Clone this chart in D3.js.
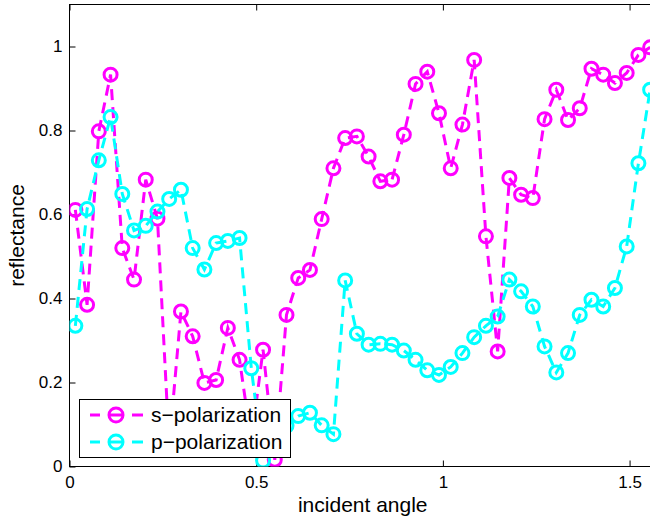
<!DOCTYPE html>
<html lang="en">
<head>
    <meta charset="utf-8">
    <title>Reflectance vs incident angle</title>
    <script src="https://d3js.org/d3.v7.js"></script>
    <style>
        body { margin: 0; background: #fff; }
        svg { display: block; font-family: "Liberation Sans", Arial, sans-serif; }
        .axis path, .axis line { stroke: #000; }
        .axis text { font-size: 17px; fill: #000; }
    </style>
</head>
<body>
<svg width="650" height="523"></svg>
<script type="text/javascript">
    // incident angles (rad)
    let angles = [0.0157, 0.0471, 0.0785, 0.1100, 0.1414, 0.1728, 0.2042, 0.2356, 0.2670, 0.2985,
        0.3299, 0.3613, 0.3927, 0.4241, 0.4555, 0.4869, 0.5184, 0.5498, 0.5812, 0.6126,
        0.6440, 0.6754, 0.7069, 0.7383, 0.7697, 0.8011, 0.8325, 0.8639, 0.8954, 0.9268,
        0.9582, 0.9896, 1.0210, 1.0524, 1.0838, 1.1153, 1.1467, 1.1781, 1.2095, 1.2409,
        1.2723, 1.3038, 1.3352, 1.3666, 1.3980, 1.4294, 1.4608, 1.4923, 1.5237, 1.5551];

    let sPol = [0.611, 0.385, 0.798, 0.933, 0.520, 0.445, 0.683, 0.590, 0.050, 0.369,
        0.310, 0.199, 0.206, 0.330, 0.254, 0.060, 0.278, 0.016, 0.361, 0.449,
        0.468, 0.589, 0.710, 0.782, 0.786, 0.738, 0.679, 0.683, 0.790, 0.911,
        0.940, 0.841, 0.710, 0.814, 0.968, 0.548, 0.274, 0.687, 0.647, 0.639,
        0.827, 0.897, 0.825, 0.853, 0.947, 0.933, 0.913, 0.937, 0.980, 0.998];

    let pPol = [0.335, 0.613, 0.729, 0.832, 0.649, 0.562, 0.573, 0.607, 0.637, 0.659,
        0.520, 0.469, 0.532, 0.537, 0.544, 0.234, 0.014, 0.070, 0.097, 0.120,
        0.128, 0.098, 0.077, 0.443, 0.316, 0.290, 0.292, 0.290, 0.276, 0.254,
        0.229, 0.218, 0.237, 0.270, 0.308, 0.335, 0.357, 0.445, 0.417, 0.381,
        0.286, 0.224, 0.270, 0.361, 0.397, 0.381, 0.425, 0.524, 0.722, 0.897];

    let xTicks = [0, 0.5, 1, 1.5];
    let yTicks = [0, 0.2, 0.4, 0.6, 0.8, 1];

    let series = [
        {name: "s\u2212polarization", color: "#ff00ff", values: sPol},
        {name: "p\u2212polarization", color: "#00ffff", values: pPol}
    ];

    let svg = d3.select("svg");
    let mLeft = 69.5, mRight = 656, mTop = 4.5, mBottom = 466.5;

    let x = d3.scaleLinear().domain([0, Math.PI / 2]).range([mLeft, mRight]);
    let y = d3.scaleLinear().domain([0, 1.1]).range([mBottom, mTop]);

    // box
    svg.append("rect")
        .attr("x", mLeft).attr("y", mTop)
        .attr("width", mRight - mLeft).attr("height", mBottom - mTop)
        .attr("fill", "none").attr("stroke", "#000");

    let fmt = d => d === 0 ? "0" : d3.format("")(d);

    svg.append("g").attr("class", "axis")
        .attr("transform", `translate(0,${mBottom})`)
        .call(d3.axisBottom(x).tickValues(xTicks).tickFormat(fmt).tickSizeInner(-6).tickSizeOuter(0).tickPadding(9))
        .call(g => g.select(".domain").remove());

    svg.append("g").attr("class", "axis")
        .attr("transform", `translate(0,${mTop})`)
        .call(d3.axisTop(x).tickValues(xTicks).tickFormat("").tickSizeInner(-6).tickSizeOuter(0))
        .call(g => g.select(".domain").remove());

    svg.append("g").attr("class", "axis")
        .attr("transform", `translate(${mLeft},0)`)
        .call(d3.axisLeft(y).tickValues(yTicks).tickFormat(fmt).tickSizeInner(-6).tickSizeOuter(0).tickPadding(7))
        .call(g => g.select(".domain").remove());

    // axis labels
    svg.append("text")
        .attr("x", (mLeft + mRight) / 2).attr("y", 512)
        .attr("text-anchor", "middle")
        .style("font-size", "21px")
        .text("incident angle");

    svg.append("text")
        .attr("transform", `translate(24,${(mTop + mBottom) / 2}) rotate(-90)`)
        .attr("text-anchor", "middle")
        .style("font-size", "21px")
        .text("reflectance");

    svg.append("clipPath").attr("id", "plotClip")
        .append("rect").attr("x", mLeft).attr("y", mTop)
        .attr("width", mRight - mLeft).attr("height", mBottom - mTop);

    let line = d3.line()
        .x((d, i) => x(angles[i]))
        .y(d => y(d));

    let plot = svg.append("g").attr("clip-path", "url(#plotClip)");

    series.forEach(function (s) {
        plot.append("path")
            .attr("d", line(s.values))
            .attr("fill", "none")
            .attr("stroke", s.color)
            .attr("stroke-width", 3)
            .attr("stroke-dasharray", "11,7");

        plot.selectAll(null)
            .data(s.values)
            .join("circle")
            .attr("cx", (d, i) => x(angles[i]))
            .attr("cy", d => y(d))
            .attr("r", 6.5)
            .attr("fill", "none")
            .attr("stroke", s.color)
            .attr("stroke-width", 3);
    });

    // legend
    let lg = svg.append("g");
    lg.append("rect")
        .attr("x", 79.5).attr("y", 399.5)
        .attr("width", 211).attr("height", 58)
        .attr("fill", "#fff").attr("stroke", "#000");

    series.forEach(function (s, k) {
        let cy = 415 + k * 27;
        [[90, 100], [110, 122], [132, 143]].forEach(function (seg) {
            lg.append("line")
                .attr("x1", seg[0]).attr("x2", seg[1])
                .attr("y1", cy).attr("y2", cy)
                .attr("stroke", s.color).attr("stroke-width", 3);
        });
        lg.append("circle")
            .attr("cx", 116).attr("cy", cy).attr("r", 7)
            .attr("fill", "none").attr("stroke", s.color).attr("stroke-width", 3);
        lg.append("text")
            .attr("x", 151).attr("y", cy)
            .attr("dy", "0.35em")
            .style("font-size", "21px")
            .text(s.name);
    });
</script>
</body>
</html>
